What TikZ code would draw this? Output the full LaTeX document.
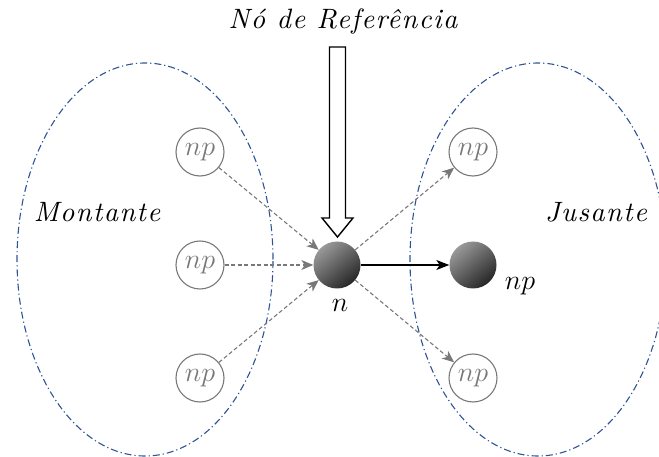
\RequirePackage{fix-cm}
\documentclass[tikz,border=0pt]{standalone}
\usepackage{fontspec}
\newfontfamily\spit{lmroman10-italic.otf}[LetterSpace=5]
\usetikzlibrary{arrows.meta,shapes.geometric}
\definecolor{ellblue}{RGB}{47,84,150}
\definecolor{npgray}{RGB}{120,120,120}
\begin{document}
\begin{tikzpicture}[x=1pt,y=-1pt,
  region/.style={draw=ellblue,line width=1.1pt,dash pattern=on 7pt off 3pt on 1.2pt off 3pt},
  npnode/.style={circle,draw=npgray,line width=1.1pt,minimum size=48pt,inner sep=0pt,text=npgray,font=\fontsize{28}{30}\selectfont},
  ballnode/.style={circle,shading=axis,top color=black!40,bottom color=black!85,shading angle=40,minimum size=47pt,inner sep=0pt},
  dasharrow/.style={draw=npgray,line width=1.1pt,dash pattern=on 4pt off 2.5pt,-{Stealth[length=12pt,width=10pt,inset=3.5pt]}},
  solidarrow/.style={draw=black,line width=1.3pt,-{Stealth[length=13pt,width=10pt,inset=3.5pt]}},
  lbl/.style={font=\fontsize{28}{30}\selectfont,inner sep=0pt},
  wlbl/.style={font=\fontsize{28}{32}\selectfont\spit,inner sep=0pt}
]
\useasboundingbox (0,0) rectangle (659,457);
% regions
\draw[region] (145,259.5) ellipse [x radius=128pt, y radius=196.5pt];
\begin{scope}
\clip (0,0) rectangle (659,457);
\draw[region] (538,259.5) ellipse [x radius=128pt, y radius=196.5pt];
\end{scope}
% nodes
\node[ballnode] (n) at (337,265) {};
\node[ballnode] (m) at (473,265) {};
\node[npnode] (l1) at (200,152) {$np$};
\node[npnode] (l2) at (200,265) {$np$};
\node[npnode] (l3) at (200,378) {$np$};
\node[npnode] (r1) at (473,152) {$np$};
\node[npnode] (r3) at (473,378) {$np$};
% labels
\node[wlbl] (title) at (343,22) {Nó de Referência};
\node[wlbl] (mont) at (97,212) {Montante};
\node[wlbl] (jus) at (596,212) {Jusante};
\node[lbl] (nl) at (340,305) {$n$};
\node[lbl] (npl) at (520,286) {$np$};
% hollow arrow
\coordinate (tip) at (337.5,237);
\draw[line width=1.4pt,fill=white,line join=miter]
  (329.5,47) -- (345.5,47) -- (345.5,218) -- (353,218) -- (tip) -- (322,218) -- (329.5,218) -- cycle;
% connectors
\draw[dasharrow] (l1) -- (n);
\draw[dasharrow] (l2) -- (n);
\draw[dasharrow] (l3) -- (n);
\draw[dasharrow] (n) -- (r1);
\draw[dasharrow] (n) -- (r3);
\draw[solidarrow] (n) -- (m);
\end{tikzpicture}
\end{document}
